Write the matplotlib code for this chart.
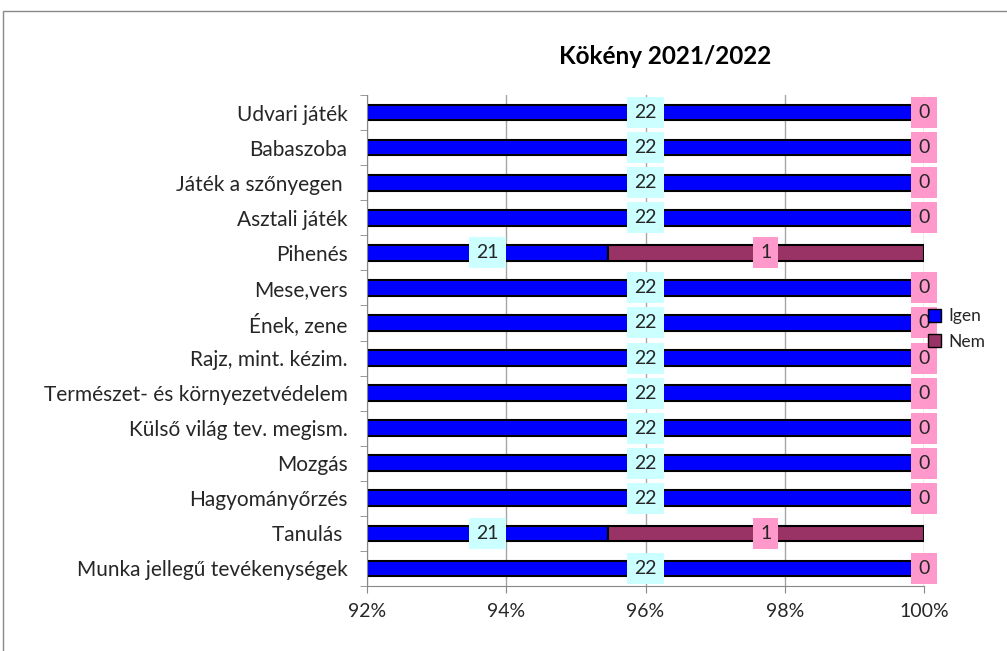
import numpy as np
import matplotlib
matplotlib.use('Agg')
import matplotlib.pyplot as plt
from matplotlib.patches import Patch, Rectangle
from matplotlib.ticker import PercentFormatter

plt.rcParams['font.family'] = ['Lato', 'DejaVu Sans']

# Data (top to bottom)
categories = ['Udvari játék', 'Babaszoba', 'Játék a szőnyegen ', 'Asztali játék', 'Pihenés',
              'Mese,vers', 'Ének, zene', 'Rajz, mint. kézim.', 'Természet- és környezetvédelem',
              'Külső világ tev. megism.', 'Mozgás', 'Hagyományőrzés', 'Tanulás ',
              'Munka jellegű tevékenységek']
igen = [22, 22, 22, 22, 21, 22, 22, 22, 22, 22, 22, 22, 21, 22]
nem = [0, 0, 0, 0, 1, 0, 0, 0, 0, 0, 0, 0, 1, 0]
x_ticks = [0.92, 0.94, 0.96, 0.98, 1.00]

igen = np.array(igen, dtype=float)
nem = np.array(nem, dtype=float)
total = igen + nem
igen_pct = igen / total
nem_pct = nem / total
y = np.arange(len(categories))

txt_col = '#262626'

fig = plt.figure(figsize=(10.07, 6.51), dpi=100)
W, H = 1007, 651
ax = fig.add_axes([367 / W, 1 - 586 / H, (924 - 367) / W, (586 - 95) / H])

ax.barh(y, igen_pct, height=0.45, color='#0000FF', edgecolor='black', linewidth=1.5, zorder=2)
ax.barh(y, nem_pct, left=igen_pct, height=0.45, color='#993366', edgecolor='black',
        linewidth=1.5, zorder=2)

xmin, xmax = x_ticks[0], x_ticks[-1]
ax.set_xlim(xmin, xmax)
ax.set_ylim(len(categories) - 0.5, -0.5)

# data labels, centred on the visible part of each segment
for i in range(len(categories)):
    xi = (max(xmin, 0) + igen_pct[i]) / 2
    ax.text(xi, y[i], f'{int(igen[i])}', ha='center', va='center', fontsize=14, color=txt_col,
            bbox=dict(boxstyle='square,pad=0.36', fc='#CCFFFF', ec='none'), zorder=4, clip_on=False)
    xn = igen_pct[i] + nem_pct[i] / 2
    ax.text(xn, y[i], f'{int(nem[i])}', ha='center', va='center', fontsize=14, color=txt_col,
            bbox=dict(boxstyle='square,pad=0.36', fc='#FF99CC', ec='none'), zorder=4, clip_on=False)

ax.set_xticks(x_ticks)
ax.xaxis.set_major_formatter(PercentFormatter(1.0, decimals=0))
ax.set_yticks(y)
ax.set_yticklabels(categories)
ax.set_yticks(np.arange(-0.5, len(categories), 1), minor=True)
ax.tick_params(axis='y', which='major', length=0, pad=14, labelsize=15, labelcolor=txt_col)
ax.tick_params(axis='y', which='minor', length=5, color='#888888')
ax.tick_params(axis='x', length=5, color='#888888', pad=7, labelsize=14, labelcolor=txt_col)

ax.xaxis.grid(True, color='#a6a6a6', linewidth=1)
ax.set_axisbelow(True)
for s in ['top', 'right']:
    ax.spines[s].set_visible(False)
for s in ['left', 'bottom']:
    ax.spines[s].set_color('#888888')

fig.text(665 / W, 1 - 57 / H, 'Kökény 2021/2022', ha='center', va='center',
         fontsize=17.5, fontweight='bold', color='black')

handles = [Patch(fc='#0000FF', ec='black'), Patch(fc='#993366', ec='black')]
leg = fig.legend(handles, ['Igen', 'Nem'], loc='center left', bbox_to_anchor=(928 / W, 1 - 329 / H),
                 frameon=False, fontsize=12.5, handlelength=0.75, handleheight=0.75,
                 handletextpad=0.4, labelspacing=0.55, borderpad=0, borderaxespad=0)
for t in leg.get_texts():
    t.set_color(txt_col)
leg.set_zorder(10)

# outer chart border
fig.patches.append(Rectangle((3 / W, -0.1), 1.2, 1 - 11 / H + 0.1, transform=fig.transFigure,
                             fill=False, edgecolor='#888888', linewidth=1))

fig.savefig('out.png', dpi=100)
